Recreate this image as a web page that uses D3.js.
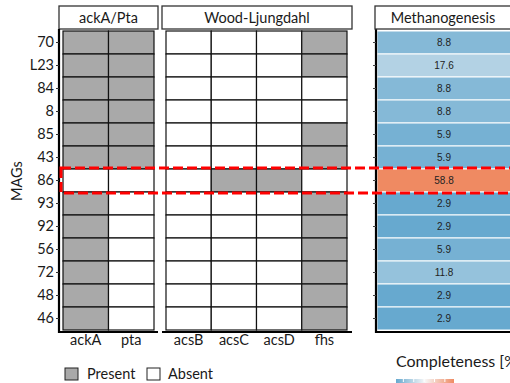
<!DOCTYPE html>
<html><head><meta charset="utf-8">
<script src="https://cdn.jsdelivr.net/npm/d3@7"></script>
<style>body{margin:0;background:#fff}svg{display:block}</style>
</head><body><svg id="c" width="510" height="383"></svg>
<script>
const mags = ["70","L23","84","8","85","43","86","93","92","56","72","48","46"];
const ackGenes = ["ackA","pta"];
const wlGenes = ["acsB","acsC","acsD","fhs"];
const ackA = [1,1,1,1,1,1,0,1,1,1,1,1,1];
const pta  = [1,1,1,1,1,1,0,0,0,0,0,0,0];
const acsB = [0,0,0,0,0,0,0,0,0,0,0,0,0];
const acsC = [0,0,0,0,0,0,1,0,0,0,0,0,0];
const acsD = [0,0,0,0,0,0,1,0,0,0,0,0,0];
const fhs  = [1,1,0,0,1,1,0,1,1,1,1,1,1];
const methano = [8.8,17.6,8.8,8.8,5.9,5.9,58.8,2.9,2.9,5.9,11.8,2.9,2.9];
const highlight = "86";

const svg = d3.select("#c");
const font = "Lato, 'Open Sans', sans-serif";
const fs = 14.5;
const gray = "#a9a9a9";
const y = d3.scaleBand().domain(mags).range([31, 330]);
const geneVals = {ackA, pta, acsB, acsC, acsD, fhs};

function genePanel(genes, x0, x1, title, hx0, hx1){
  const x = d3.scaleBand().domain(genes).range([x0, x1]);
  const g = svg.append("g");
  const cells = [];
  genes.forEach(gn => mags.forEach((m,i) => cells.push({gn, m, v: geneVals[gn][i]})));
  g.selectAll("rect.cell").data(cells).join("rect")
    .attr("x", d => x(d.gn)).attr("y", d => y(d.m))
    .attr("width", x.bandwidth()).attr("height", y.bandwidth())
    .attr("fill", d => d.v ? gray : "#fff")
    .attr("stroke", "#111").attr("stroke-width", 1.2);
  g.append("rect").attr("x", hx0).attr("y", 6).attr("width", hx1-hx0).attr("height", 23)
    .attr("fill", "#fff").attr("stroke", "#333").attr("stroke-width", 1.3);
  g.append("text").attr("x", (hx0+hx1)/2).attr("y", 23).attr("text-anchor","middle")
    .attr("font-family", font).attr("font-size", fs).attr("fill","#1a1a1a").text(title);
  const xa = g.append("g").attr("transform", "translate(0,332)")
    .call(d3.axisBottom(x).tickSize(0).tickPadding(3));
  xa.select(".domain").attr("d", `M${hx0},0H${hx1}`).attr("stroke","#000").attr("stroke-width",2.2);
  xa.selectAll("text").attr("font-family", font).attr("font-size", fs).attr("fill","#1a1a1a");
  return x;
}

genePanel(ackGenes, 63, 154, "ackA/Pta", 59, 158);
genePanel(wlGenes, 166, 347, "Wood-Ljungdahl", 162, 352);

const ya = svg.append("g").attr("transform","translate(59,0)")
  .call(d3.axisLeft(y).tickSize(3).tickPadding(2));
ya.select(".domain").attr("d","M0,29V333").attr("stroke","#000").attr("stroke-width",2.2);
ya.selectAll(".tick line").attr("stroke","#333");
ya.selectAll("text").attr("font-family", font).attr("font-size", fs).attr("fill","#1a1a1a");

svg.append("text").attr("transform","translate(22,181) rotate(-90)").attr("text-anchor","middle")
  .attr("font-family", font).attr("font-size", fs).attr("fill","#1a1a1a").text("MAGs");

const x3 = d3.scaleBand().domain(["Methanogenesis"]).range([377, 512]);
const color = d3.scaleLinear().domain([2.9, 30.85, 58.8]).range(["#67a9cf","#f7f7f7","#ef8a62"]);
const hm = svg.append("g");
hm.selectAll("rect").data(mags.map((m,i)=>({m, v: methano[i]}))).join("rect")
  .attr("x", x3("Methanogenesis")).attr("y", d => y(d.m))
  .attr("width", x3.bandwidth()).attr("height", y.bandwidth())
  .attr("fill", d => color(d.v)).attr("stroke","#fff").attr("stroke-width",1);
hm.selectAll("text").data(mags.map((m,i)=>({m, v: methano[i]}))).join("text")
  .attr("x", 444).attr("y", d => y(d.m) + y.bandwidth()/2 + 3.5)
  .attr("text-anchor","middle").attr("font-family","'Liberation Sans', Arial, sans-serif")
  .attr("font-size", 10).attr("fill","#222").text(d => d.v.toFixed(1));
const ya3 = hm.append("g").attr("transform","translate(376,0)")
  .call(d3.axisLeft(y).tickSize(3).tickFormat(""));
ya3.select(".domain").attr("d","M0,29V333").attr("stroke","#000").attr("stroke-width",2.2);
ya3.selectAll(".tick line").attr("stroke","#444");
hm.append("line").attr("x1",375).attr("x2",512).attr("y1",332).attr("y2",332).attr("stroke","#000").attr("stroke-width",2.2);
hm.append("rect").attr("x",375).attr("y",6).attr("width",140).attr("height",23)
  .attr("fill","#fff").attr("stroke","#333").attr("stroke-width",1.3);
hm.append("text").attr("x",443).attr("y",23).attr("text-anchor","middle")
  .attr("font-family", font).attr("font-size", fs).attr("fill","#1a1a1a").text("Methanogenesis");

svg.append("rect").attr("x", 61).attr("y", y(highlight) - 1).attr("width", 470).attr("height", y.bandwidth() + 2)
  .attr("fill","none").attr("stroke","#ff0000").attr("stroke-width",3).attr("stroke-dasharray","10,4");

const leg = svg.append("g");
[["Present", gray, 65, 87], ["Absent", "#fff", 147, 168]].forEach(([t, f, bx, tx]) => {
  leg.append("rect").attr("x", bx).attr("y", 368).attr("width", 13).attr("height", 12)
    .attr("fill", f).attr("stroke","#222").attr("stroke-width",1);
  leg.append("text").attr("x", tx).attr("y", 379).attr("font-family", font).attr("font-size", fs)
    .attr("fill","#1a1a1a").text(t);
});

svg.append("text").attr("x",396).attr("y",367).attr("font-family", font).attr("font-size",16)
  .attr("fill","#1a1a1a").text("Completeness [%]");
const defs = svg.append("defs");
const grad = defs.append("linearGradient").attr("id","cg");
d3.range(0,1.01,0.1).forEach(t => grad.append("stop").attr("offset", t)
  .attr("stop-color", color(2.9 + t*(58.8-2.9))));
svg.append("rect").attr("x",396).attr("y",379).attr("width",58).attr("height",8).attr("fill","url(#cg)");
const cbx = d3.scaleLinear().domain([2.9,58.8]).range([396,454]);
svg.selectAll("line.cbt").data([10,20,30,40,50]).join("line").attr("class","cbt")
  .attr("x1", d=>cbx(d)).attr("x2", d=>cbx(d)).attr("y1",379).attr("y2",382)
  .attr("stroke","#fff").attr("stroke-width",1);
</script></body></html>
